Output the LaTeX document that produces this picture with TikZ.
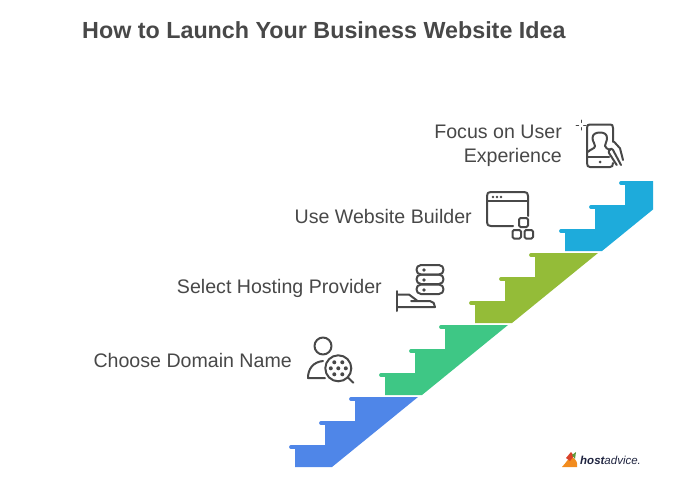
\documentclass[tikz,border=0pt]{standalone}
\usepackage{fontspec}
\setmainfont{Liberation Sans}
\usepackage{xcolor}
\definecolor{BlueStep}{HTML}{4F86E8}
\definecolor{GreenStep}{HTML}{3EC785}
\definecolor{OliveStep}{HTML}{94BC38}
\definecolor{CyanStep}{HTML}{1EABDB}
\definecolor{GrayText}{HTML}{484848}
\definecolor{LogoOrange}{HTML}{F28C1E}
\definecolor{LogoRed}{HTML}{D9432B}
\definecolor{LogoGreen}{HTML}{5C9A3A}
\definecolor{LogoInk}{HTML}{1F2440}

\begin{document}
\begin{tikzpicture}[
  x=1pt, y=-1pt,
  title/.style={anchor=west, inner sep=0pt, text=GrayText, font=\fontsize{23.3}{28}\selectfont\bfseries},
  lbl/.style={anchor=east, inner sep=0pt, align=right, text=GrayText, font=\fontsize{19.6}{24}\selectfont},
  icon/.style={draw=GrayText, line width=2pt, line cap=round, line join=round},
  dot/.style={fill=GrayText, draw=none}
]
\useasboundingbox (0,0) rectangle (690,498);

% Title
\node[title] (T) at (82,30.5) {How to Launch Your Business Website Idea};

% Stairs
\begin{scope}
\clip (0,0) rectangle (653,498);
\foreach \i/\col in {0/BlueStep,1/GreenStep,2/OliveStep,3/CyanStep}{
  \begin{scope}[shift={(90*\i,-72*\i)}]
    \fill[\col] (295,467) -- (295,445) -- (325,445) -- (325,421) -- (355,421) -- (355,397) -- (418,397) -- (332,467) -- cycle;
    \foreach \k in {0,1,2}
      \draw[\col, line width=3.8pt, line cap=round] (291+30*\k,447-24*\k) -- (297+30*\k,447-24*\k);
  \end{scope}
}
\end{scope}

% Labels
\node[lbl] (L1) at (292,360.5) {Choose Domain Name};
\node[lbl] (L2) at (382,288.5) {Select Hosting Provider};
\node[lbl] (L3) at (472,216.5) {Use Website Builder};
\node[lbl] (L4) at (562,145.5) {Focus on User\\Experience};

% Person with magnifier
\draw[icon] (323,346) circle (8.5);
\draw[icon] (323,361) .. controls (313,362) and (308,369) .. (308,378) -- (325,378);
\draw[icon] (338.3,368.3) circle (13);
\draw[icon] (347.7,377.3) -- (353.3,382.7);
\foreach \dx/\dy in {0/0,-7.5/0,7.5/0,-4/-6,4/-6,-4/6,4/6}
  \fill[dot] (338.3+\dx,368.3+\dy) circle (2);

% Server on hand
\foreach \yy in {265,274.5,284.5}
  \draw[icon] (421,\yy) -- (439,\yy) .. controls (445,\yy) and (445,\yy+9.5) .. (439,\yy+9.5) -- (421,\yy+9.5) .. controls (415,\yy+9.5) and (415,\yy) .. (421,\yy);
\foreach \yy in {270,280,290}
  \fill[dot] (424,\yy) circle (1.8);
\draw[icon] (397,291) -- (397,311);
\draw[icon] (397,294.5) -- (409,294.5) -- (417,300.5);
\draw[icon] (411,301) -- (430,301) .. controls (433,301) and (435,304) .. (435,307) -- (397,307);

% Browser window with blocks
\draw[icon] (528,216) -- (528,196) .. controls (528,193) and (527,192) .. (524,192) -- (491,192) .. controls (488,192) and (487,193) .. (487,196) -- (487,222) .. controls (487,225) and (488,226) .. (491,226) -- (513,226);
\draw[icon] (487,200.7) -- (528,200.7);
\foreach \xx in {493,497,501}
  \fill[dot] (\xx,197) circle (1.3);
\draw[icon, rounded corners=1.5pt] (519,218) rectangle (528,227);
\draw[icon, rounded corners=1.5pt] (512.5,230) rectangle (521,238.5);
\draw[icon, rounded corners=1.5pt] (524.5,230) rectangle (533,238.5);

% Phone with user
\draw[icon] (613,142) -- (613,128) .. controls (613,125) and (612,124.5) .. (610,124.5) -- (590,124.5) .. controls (588,124.5) and (587,125) .. (587,128) -- (587,163) .. controls (587,166) and (588,167) .. (590,167) -- (610,167) .. controls (612,167) and (613,166) .. (613,163);
\draw[icon] (587,157) -- (609,157);
\fill[dot] (600,162) circle (1.5);
\draw[icon] (588,152) .. controls (590,149) and (595,149) .. (595,146) .. controls (595,143) and (592.5,142) .. (592.5,138) .. controls (592.5,134) and (596,132.5) .. (600,132.5) .. controls (604,132.5) and (607,134) .. (607,138) .. controls (607,142) and (605,143) .. (605,146) .. controls (605,148) and (608,149) .. (610,150);
\draw[icon] (614,141.7) -- (620,148.3) -- (623,160);
\draw[icon] (616.7,165) -- (609,153) .. controls (608,150) and (611,147) .. (613,150) -- (621,165);
\draw[icon, line width=1pt] (581,120) -- (581,122.5) (581,127.5) -- (581,130) (576,125) -- (578.5,125) (583.5,125) -- (586,125);

% Host logo
\fill[LogoOrange] (562,467) .. controls (566,463) and (568,458) .. (572,457) .. controls (576,459) and (578,463) .. (577,467) -- cycle;
\fill[LogoRed] (566,458) -- (571,452) -- (574,456) -- (570,461) -- cycle;
\fill[LogoGreen] (572,455) -- (576,452) -- (575,459) -- cycle;
\node[anchor=west, inner sep=0pt, text=LogoInk, font=\fontsize{11.5}{14}\selectfont\itshape] (H) at (580,460) {\textbf{host}advice.};
\end{tikzpicture}
\end{document}
